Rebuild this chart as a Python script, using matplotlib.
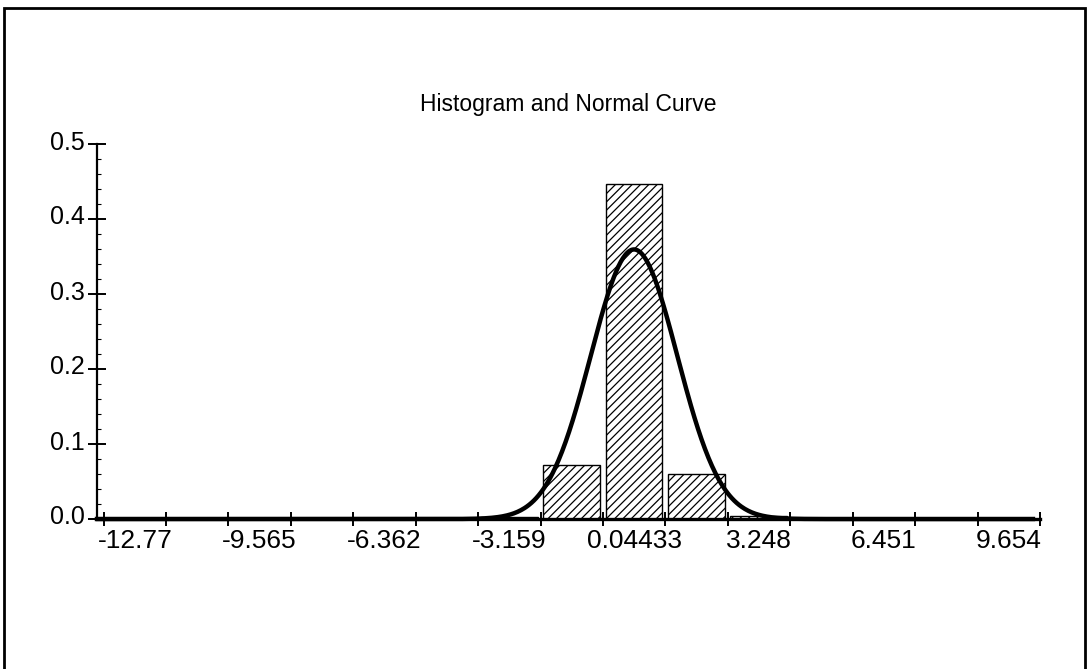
import numpy as np
import matplotlib
matplotlib.use("Agg")
import matplotlib.pyplot as plt
import matplotlib.transforms as mtransforms
from matplotlib.patches import Rectangle

plt.rcParams['font.family'] = ['Liberation Sans', 'DejaVu Sans']
plt.rcParams['hatch.linewidth'] = 0.9

# histogram bins (centers), densities and the fitted normal curve
bin_centers = [-3.159, -1.5574, 0.04433, 1.646, 3.248]
densities = [0.003, 0.072, 0.447, 0.060, 0.004]
mu, sigma = 0.04433, 1.11

tick_labels = ['-12.77', '-9.565', '-6.362', '-3.159', '0.04433', '3.248', '6.451', '9.654']
tick_values = [-12.77, -9.565, -6.362, -3.159, 0.04433, 3.248, 6.451, 9.654]

bw = (tick_values[1] - tick_values[0]) / 2
x_lo = tick_values[0] - bw / 2
x_hi = tick_values[-1] + bw / 2
shift = 0.17

fig = plt.figure(figsize=(10.89, 6.69), dpi=100)
ax = fig.add_axes([97 / 1089, 150 / 669, 943 / 1089, 375 / 669])

ax.bar(bin_centers, densities, width=bw * 0.91, facecolor='white',
       edgecolor='black', linewidth=1.0, hatch='////', zorder=2)

xs = np.linspace(x_lo - shift, x_hi - shift, 800)
ys = np.exp(-0.5 * ((xs - mu) / sigma) ** 2) / (sigma * np.sqrt(2 * np.pi))
ax.plot(xs, ys, color='black', lw=3.2, zorder=4, clip_on=False)

ax.set_xlim(x_lo - shift, x_hi - shift)
ax.set_ylim(0, 0.5)

for s in ['top', 'right']:
    ax.spines[s].set_visible(False)
ax.spines['left'].set_linewidth(1.6)
ax.spines['bottom'].set_linewidth(2.4)
ax.spines['left'].set_zorder(5)
ax.spines['bottom'].set_zorder(5)

# labels sit on bin centers, tick marks on bin edges
ax.set_xticks(tick_values)
ax.set_xticklabels(tick_labels)
ax.tick_params(axis='x', which='major', length=0, pad=7, labelsize=19)
edges = np.arange(x_lo, x_hi + bw / 2, bw)
ax.set_xticks(edges, minor=True)
ax.tick_params(axis='x', which='minor', direction='inout', length=10, width=1.4)

ax.set_yticks(np.arange(0, 0.51, 0.1))
ax.set_yticklabels(['0.0', '0.1', '0.2', '0.3', '0.4', '0.5'])
ax.set_yticks(np.arange(0, 0.5, 0.02), minor=True)
ax.tick_params(axis='y', which='major', direction='inout', length=13, width=1.4,
               pad=2, labelsize=18)
ax.tick_params(axis='y', which='minor', direction='in', length=3, width=0.8)
lift = mtransforms.ScaledTranslation(0, 4 / 100, fig.dpi_scale_trans)
for lab in ax.get_yticklabels():
    lab.set_transform(lab.get_transform() + lift)

ax.set_title('Histogram and Normal Curve', fontsize=16.5, pad=24)

# outer frame
fig.add_artist(Rectangle((4 / 1089, -0.05), 1081 / 1089, 1.05 - 8 / 669,
                         transform=fig.transFigure, fill=False,
                         edgecolor='black', linewidth=2.0, clip_on=False))

fig.savefig('out.png', dpi=100, facecolor='white')
